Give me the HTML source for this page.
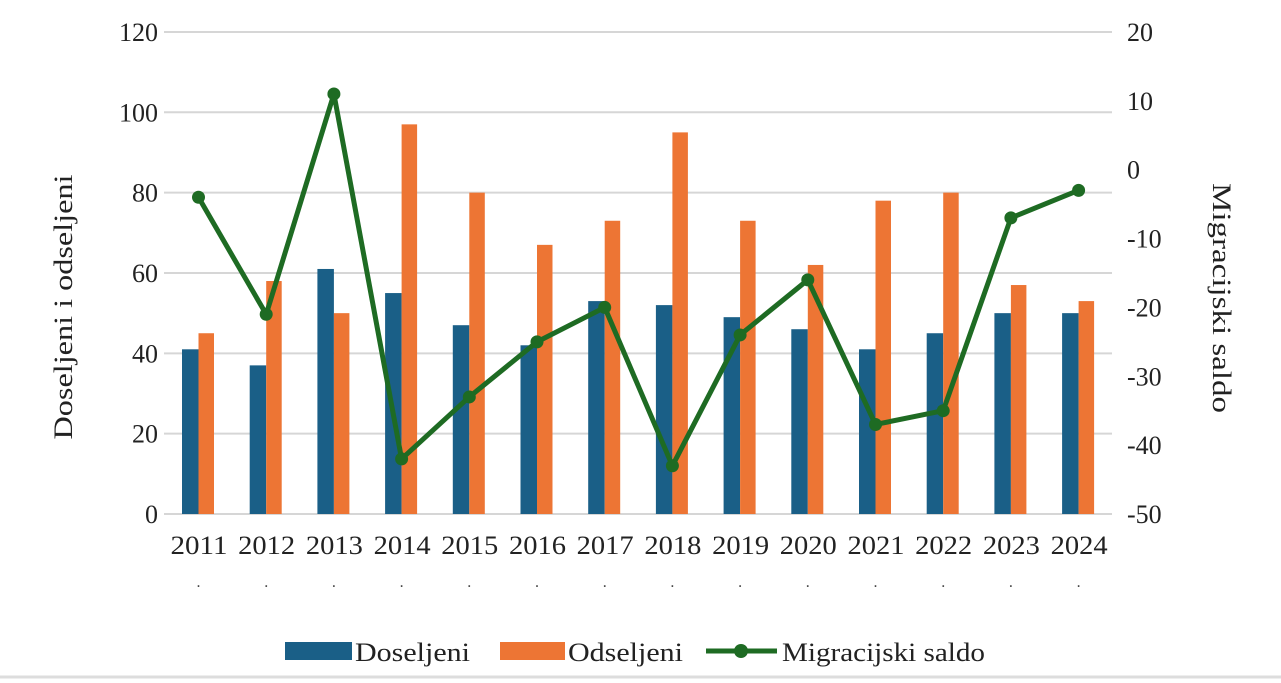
<!DOCTYPE html>
<html><head><meta charset="utf-8"><style>
body{margin:0;background:#fff;width:1281px;height:683px;overflow:hidden}
svg{display:block;font-family:"Liberation Serif",serif}
</style></head><body>
<svg id="c" width="1281" height="683" viewBox="0 0 1281 683" xmlns="http://www.w3.org/2000/svg">
<rect x="0" y="0" width="1281" height="683" fill="#fff"/>
<line x1="0" y1="677" x2="1281" y2="677" stroke="#ddd" stroke-width="3"/>
<g id="g"></g>
<text transform="translate(72,307) rotate(-90)" text-anchor="middle" font-size="26" textLength="265" lengthAdjust="spacingAndGlyphs" fill="#222">Doseljeni i odseljeni</text>
<text transform="translate(1213,298) rotate(90)" text-anchor="middle" font-size="26" textLength="230" lengthAdjust="spacingAndGlyphs" fill="#222">Migracijski saldo</text>
<rect x="285" y="642" width="67" height="18" fill="#1a5f87"/>
<text x="355" y="661" font-size="26" textLength="115" lengthAdjust="spacingAndGlyphs" fill="#222">Doseljeni</text>
<rect x="500" y="642" width="65" height="18" fill="#ed7534"/>
<text x="568" y="661" font-size="26" textLength="115" lengthAdjust="spacingAndGlyphs" fill="#222">Odseljeni</text>
<line x1="706" y1="651" x2="777" y2="651" stroke="#1e6b23" stroke-width="5"/>
<circle cx="741" cy="651" r="7" fill="#1e6b23"/>
<text x="782" y="661" font-size="26" textLength="203" lengthAdjust="spacingAndGlyphs" fill="#222">Migracijski saldo</text>
</svg>
<script>
var g=document.getElementById('g'),h='';
var d=[41,37,61,55,47,42,53,52,49,46,41,45,50,50];
var o=[45,58,50,97,80,67,73,95,73,62,78,80,57,53];
var s=[-4,-21,11,-42,-33,-25,-20,-43,-24,-16,-37,-35,-7,-3];
function yl(v){return 514-v*4.017}
function yr(v){return 514-(v+50)*6.886}
for(var i=0;i<=6;i++){var y=yl(i*20);h+='<line x1="164" y1="'+y+'" x2="1112" y2="'+y+'" stroke="#d6d6d6" stroke-width="2"/>';
h+='<text x="158" y="'+(y+9)+'" text-anchor="end" font-size="26" fill="#222">'+(i*20)+'</text>';}
for(var j=0;j<=7;j++){var v=-50+j*10;h+='<text x="1127" y="'+(yr(v)+9)+'" font-size="26" fill="#222">'+v+'</text>';}
var pts=[];
for(var i=0;i<14;i++){var c=198.5+67.7*i;
h+='<rect x="'+(c-16.5)+'" y="'+yl(d[i])+'" width="16.5" height="'+(514-yl(d[i]))+'" fill="#1a5f87"/>';
h+='<rect x="'+c+'" y="'+yl(o[i])+'" width="15.5" height="'+(514-yl(o[i]))+'" fill="#ed7534"/>';
h+='<text x="'+(c-28)+'" y="554" font-size="26" textLength="57" lengthAdjust="spacingAndGlyphs" fill="#222">'+(2011+i)+'</text>';
h+='<text x="'+c+'" y="587" text-anchor="middle" font-size="16" fill="#444">.</text>';
pts.push(c+','+yr(s[i]));}
h+='<polyline points="'+pts.join(' ')+'" fill="none" stroke="#1e6b23" stroke-width="5" stroke-linejoin="round"/>';
for(var i=0;i<14;i++){var p=pts[i].split(',');h+='<circle cx="'+p[0]+'" cy="'+p[1]+'" r="6.5" fill="#1e6b23"/>';}
g.innerHTML=h;
</script>
</body></html>
